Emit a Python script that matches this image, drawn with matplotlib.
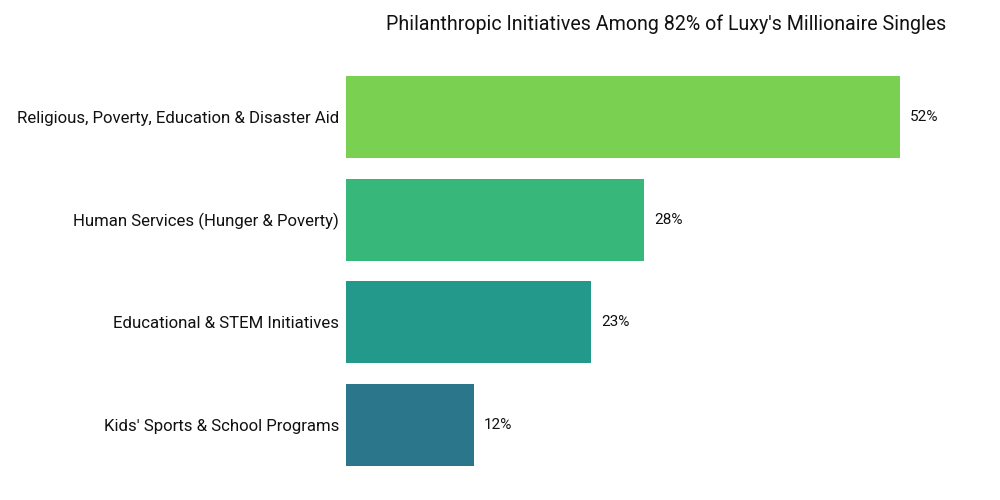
import matplotlib.pyplot as plt

# data
categories = ["Religious, Poverty, Education & Disaster Aid",
              "Human Services (Hunger & Poverty)",
              "Educational & STEM Initiatives",
              "Kids' Sports & School Programs"]
values = [52, 28, 23, 12]
colors = ["#7ad151", "#37b87a", "#22998b", "#2c768c"]

plt.rcParams['font.family'] = ['Roboto', 'DejaVu Sans']

fig = plt.figure(figsize=(10, 5), dpi=100)
# axes placed in figure fractions (left, bottom, width, height)
ax = fig.add_axes([0.346, 1 - 476.3 / 500, 0.640, 410.6 / 500])

ypos = list(range(len(categories)))
ax.barh(ypos, values, height=0.8, color=colors)
ax.set_yticks(ypos)
ax.set_yticklabels(categories, fontsize=12.1, color='#111111')
ax.set_ylim(3.5, -0.5)
ax.set_xlim(0, 60.1)
ax.set_xticks([])
ax.tick_params(axis='y', length=0, pad=5)
for s in ax.spines.values():
    s.set_visible(False)

# value labels right of each bar
for y, v in zip(ypos, values):
    ax.annotate(f"{v}%", (v, y), xytext=(7.5, 0), textcoords='offset points',
                va='center', ha='left', fontsize=11, color='#111111')

ax.set_title("Philanthropic Initiatives Among 82% of Luxy's Millionaire Singles",
             fontsize=14.1, pad=26, color='#111111')

fig.savefig("out.png", dpi=100)
